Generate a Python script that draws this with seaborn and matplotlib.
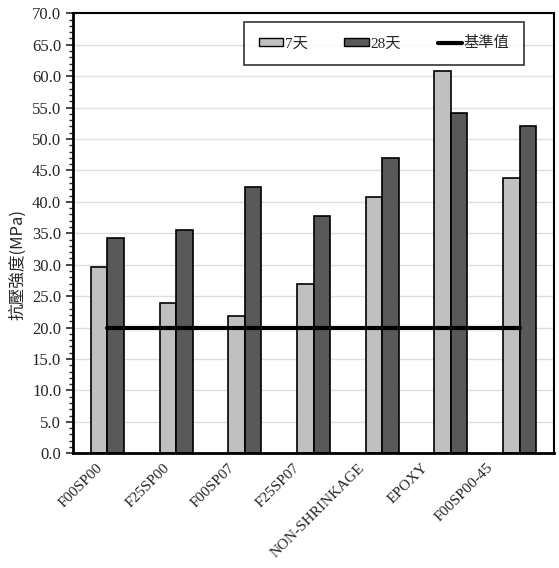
import matplotlib
matplotlib.use("Agg")
import matplotlib.pyplot as plt
import matplotlib.transforms as mtransforms
import seaborn as sns
import pandas as pd
import numpy as np
from matplotlib.ticker import MultipleLocator
from matplotlib.patches import Patch
from matplotlib.lines import Line2D

# data
categories = ["F00SP00", "F25SP00", "F00SP07", "F25SP07", "NON-SHRINKAGE", "EPOXY", "F00SP00-45"]
day7 = [29.6, 23.9, 21.9, 26.9, 40.8, 60.8, 43.8]
day28 = [34.3, 35.5, 42.3, 37.7, 47.0, 54.1, 52.0]
baseline = [20.0] * len(categories)
series_names = ["7天", "28天"]
baseline_name = "基準值"

sns.set_style("white")
plt.rcParams['font.family'] = ['Liberation Serif', 'Noto Sans CJK TC']

df = pd.DataFrame({
    "cat": categories * 2,
    "val": day7 + day28,
    "series": [series_names[0]] * len(categories) + [series_names[1]] * len(categories),
})

fig = plt.figure(figsize=(5.59, 5.68), dpi=100)
ax = fig.add_axes([0.1306, 0.2020, 0.8605, 0.7745])

sns.barplot(data=df, x="cat", y="val", hue="series", palette=["#c0c0c0", "#595959"],
            width=0.48, edgecolor="black", linewidth=1.2, ax=ax, legend=False)
sns.lineplot(x=np.arange(len(categories)), y=baseline, color="black", linewidth=3, ax=ax)

ax.set_xlim(-0.5, len(categories) - 0.5)
ax.set_ylim(0, 70)
ax.set_yticks(np.arange(0, 70.1, 5))
ax.yaxis.set_minor_locator(MultipleLocator(1))
ax.set_yticklabels(["%.1f" % v for v in np.arange(0, 70.1, 5)], fontsize=12)
ax.tick_params(axis="y", which="major", direction="out", length=5, width=1.2, left=True)
ax.tick_params(axis="y", which="minor", direction="out", length=3, width=1, left=True)
ax.tick_params(axis="x", length=0)
ax.set_xticks(range(len(categories)))
ax.set_xticklabels(categories, rotation=45, ha="right", rotation_mode="anchor", fontsize=11)

# excel-like drift of the rotated labels to the left
shifts = [-11, -13, -17, -20, -24, -30, -33]
for lab, dx in zip(ax.get_xticklabels(), shifts):
    lab.set_transform(lab.get_transform() + mtransforms.ScaledTranslation(dx / 100, -3 / 100, fig.dpi_scale_trans))

ax.yaxis.grid(True, color="#dddddd", linewidth=1)
ax.set_axisbelow(True)
ax.set_xlabel("")
ax.set_ylabel("抗壓強度(MPa)", fontsize=12, family=['Noto Sans CJK TC'])
ax.yaxis.set_label_coords(-0.098, 0.43)
for s in ax.spines.values():
    s.set_color("black")
    s.set_linewidth(1.5)
ax.spines["left"].set_linewidth(2)
ax.spines["bottom"].set_linewidth(2)

handles = [Patch(facecolor="#c0c0c0", edgecolor="black", label=series_names[0]),
           Patch(facecolor="#595959", edgecolor="black", label=series_names[1]),
           Line2D([0], [0], color="black", linewidth=3, label=baseline_name)]
leg = ax.legend(handles=handles, ncol=3, loc="upper right", bbox_to_anchor=(0.953, 0.998),
                frameon=True, fancybox=False, edgecolor="black",
                borderpad=0.95, columnspacing=2.4, handlelength=1.6, handleheight=0.5,
                handletextpad=0.1,
                prop={"family": ['Liberation Serif', 'Noto Sans CJK TC'], "size": 11})
leg.get_frame().set_linewidth(1.2)

fig.savefig("out.png", dpi=100)
